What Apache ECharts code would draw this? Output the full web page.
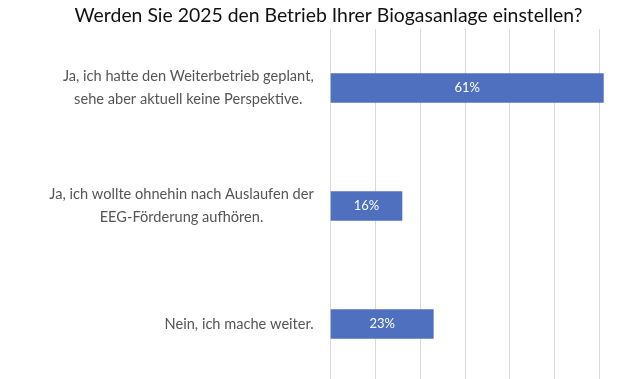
<!DOCTYPE html>
<html>
<head>
<meta charset="utf-8">
<script src="https://cdn.jsdelivr.net/npm/echarts@6/dist/echarts.min.js"></script>
<style>html,body{margin:0;padding:0;background:#fff}#c{width:640px;height:379px}</style>
</head>
<body>
<div id="c"></div>
<script>
const titleText = 'Werden Sie 2025 den Betrieb Ihrer Biogasanlage einstellen?';
const categories = [
  'Ja, ich hatte den Weiterbetrieb geplant,\nsehe aber aktuell keine Perspektive.',
  'Ja, ich wollte ohnehin nach Auslaufen der\nEEG-Förderung aufhören.',
  'Nein, ich mache weiter.'
];
const values = [61, 16, 23];

const chart = echarts.init(document.getElementById('c'));
chart.setOption({
  animation: false,
  backgroundColor: '#ffffff',
  title: {
    text: titleText,
    left: 323.5, top: 1, textAlign: 'center',
    textStyle: { fontFamily: 'Lato', fontSize: 19.4, fontWeight: 'normal', color: '#111111' }
  },
  grid: { left: 330.7, right: -4, top: 29, bottom: -4, containLabel: false, outerBoundsMode: 'none' },
  xAxis: {
    type: 'value', min: 0, max: 70, interval: 10,
    axisLabel: { show: false },
    axisLine: { show: false }, axisTick: { show: false },
    splitLine: { show: true, lineStyle: { color: '#d9d9d9', width: 1 } }
  },
  yAxis: {
    type: 'category', inverse: true, data: categories,
    axisLine: { show: false }, axisTick: { show: false },
    axisLabel: {
      margin: 17, align: 'right',
      formatter: function (v) { return v.split('\n').map(s => '{c|' + s + '}').join('\n'); },
      rich: { c: { align: 'center', fontFamily: 'Lato', fontSize: 14.6, color: '#555555', lineHeight: 23 } }
    }
  },
  series: [{
    type: 'bar', data: values, barCategoryGap: '75%',
    itemStyle: { color: '#4f6fbf' },
    label: { show: true, position: 'inside', formatter: '{c}%', color: '#ffffff', fontFamily: 'Lato', fontSize: 13 }
  }]
});
</script>
</body>
</html>
